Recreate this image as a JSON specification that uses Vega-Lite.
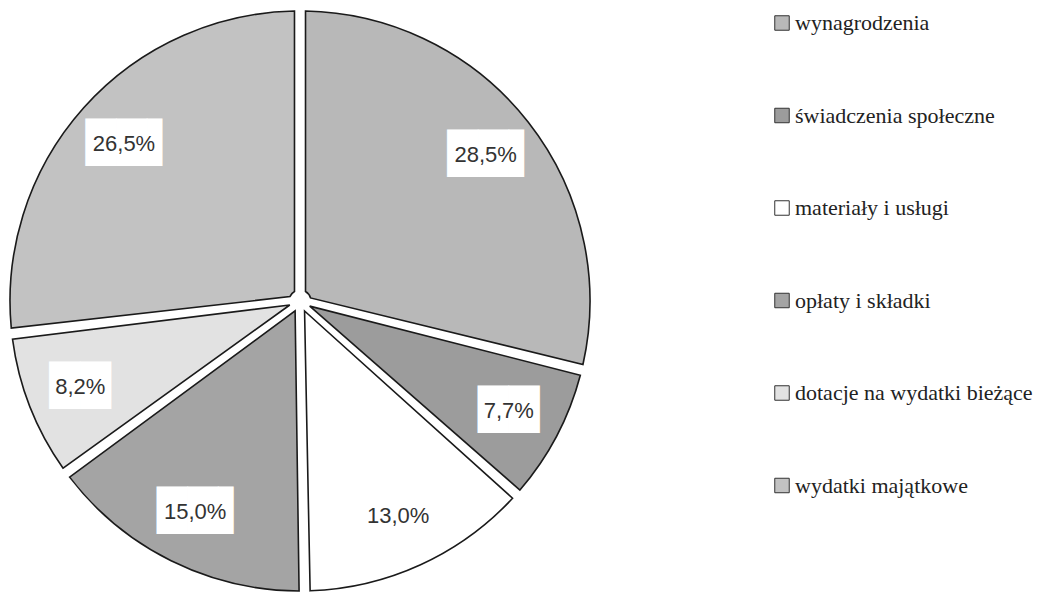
{
  "$schema": "https://vega.github.io/schema/vega-lite/v6.json",
  "width": 600,
  "height": 602,
  "padding": 0,
  "background": "white",
  "view": {"stroke": null},
  "config": {
    "legend": {"labelFont": "Liberation Serif", "labelFontSize": 22}
  },
  "data": {
    "values": [
      {"order": 1, "kategoria": "wynagrodzenia", "wartosc": 28.5, "etykieta": "28,5%"},
      {"order": 2, "kategoria": "świadczenia społeczne", "wartosc": 7.7, "etykieta": "7,7%"},
      {"order": 3, "kategoria": "materiały i usługi", "wartosc": 13.0, "etykieta": "13,0%"},
      {"order": 4, "kategoria": "opłaty i składki", "wartosc": 15.0, "etykieta": "15,0%"},
      {"order": 5, "kategoria": "dotacje na wydatki bieżące", "wartosc": 8.2, "etykieta": "8,2%"},
      {"order": 6, "kategoria": "wydatki majątkowe", "wartosc": 26.5, "etykieta": "26,5%"}
    ]
  },
  "encoding": {
    "theta": {"field": "wartosc", "type": "quantitative", "stack": true},
    "order": {"field": "order", "type": "quantitative"}
  },
  "layer": [
    {
      "mark": {"type": "arc", "radius": 290, "radius2": 11, "padAngle": 0.038, "stroke": "#1a1a1a", "strokeWidth": 1.6, "strokeJoin": "miter"},
      "encoding": {
        "color": {
          "field": "kategoria",
          "type": "nominal",
          "scale": {
            "domain": ["wynagrodzenia", "świadczenia społeczne", "materiały i usługi", "opłaty i składki", "dotacje na wydatki bieżące", "wydatki majątkowe"],
            "range": ["#b8b8b8", "#9c9c9c", "#ffffff", "#a4a4a4", "#e2e2e2", "#c2c2c2"]
          },
          "legend": {
            "title": null,
            "orient": "none",
            "legendX": 771,
            "legendY": 12,
            "symbolType": "square",
            "symbolSize": 210,
            "symbolStrokeColor": "#333333",
            "symbolStrokeWidth": 1,
            "labelFont": "Liberation Serif",
            "labelFontSize": 22,
            "labelColor": "#222222",
            "labelOffset": 2,
            "rowPadding": 70.5,
            "labelLimit": 400
          }
        }
      }
    },
    {
      "mark": {"type": "text", "radius": 236, "font": "DejaVu Sans", "fontSize": 40, "fill": "white", "baseline": "middle", "align": "center"},
      "encoding": {
        "text": {"condition": {"test": "length(datum.etykieta) <= 4", "value": "██"}, "value": ""}
      }
    },
    {
      "mark": {"type": "text", "radius": 236, "font": "DejaVu Sans", "fontSize": 40, "dx": 8, "fill": "white", "baseline": "middle", "align": "center"},
      "encoding": {
        "text": {"condition": {"test": "length(datum.etykieta) > 4", "value": "██▌"}, "value": ""}
      }
    },
    {
      "mark": {"type": "text", "radius": 236, "font": "Liberation Sans", "fontSize": 22, "fill": "#333333", "baseline": "middle", "align": "center"},
      "encoding": {"text": {"field": "etykieta", "type": "nominal"}}
    }
  ]
}
